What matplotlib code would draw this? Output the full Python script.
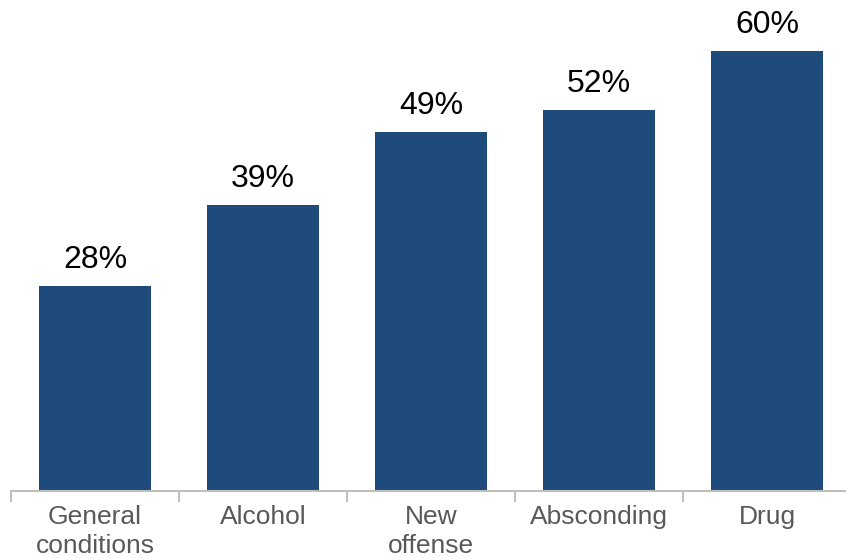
import matplotlib.pyplot as plt
import numpy as np

# Data
categories = ["General\nconditions", "Alcohol", "New\noffense", "Absconding", "Drug"]
values = [28, 39, 49, 52, 60]

BAR_COLOR = "#1F4A7C"
AXIS_COLOR = "#BFBFBF"
TEXT_GRAY = "#595959"

plt.rcParams['font.family'] = ['Liberation Sans', 'DejaVu Sans']

fig = plt.figure(figsize=(8.46, 5.59), dpi=100)
# axes placed so the baseline sits at y=491px and categories span 11..851px
ax = fig.add_axes([11 / 846, 68 / 559, 840 / 846, 491 / 559])

x = np.arange(len(categories))
bars = ax.bar(x, values, width=0.667, color=BAR_COLOR)

for rect, v in zip(bars, values):
    ax.annotate(f"{v}%", (rect.get_x() + rect.get_width() / 2, v),
                xytext=(0, 8), textcoords="offset points",
                ha="center", va="bottom", fontsize=23, color="black")

ax.set_xlim(-0.5, len(categories) - 0.5)
ax.set_ylim(0, 67.0)

# category labels centred, tick marks at category boundaries
ax.set_xticks(x)
ax.set_xticklabels(categories, fontsize=19, color=TEXT_GRAY, linespacing=1.25)
ax.set_xticks(np.arange(-0.5, len(categories)), minor=True)
ax.tick_params(axis="x", which="major", length=0, pad=10)
ax.tick_params(axis="x", which="minor", length=8, width=1.5, color=AXIS_COLOR)
ax.set_yticks([])

for side in ["top", "right", "left"]:
    ax.spines[side].set_visible(False)
ax.spines["bottom"].set_color(AXIS_COLOR)
ax.spines["bottom"].set_linewidth(1.5)

fig.savefig("out.png", dpi=100)
